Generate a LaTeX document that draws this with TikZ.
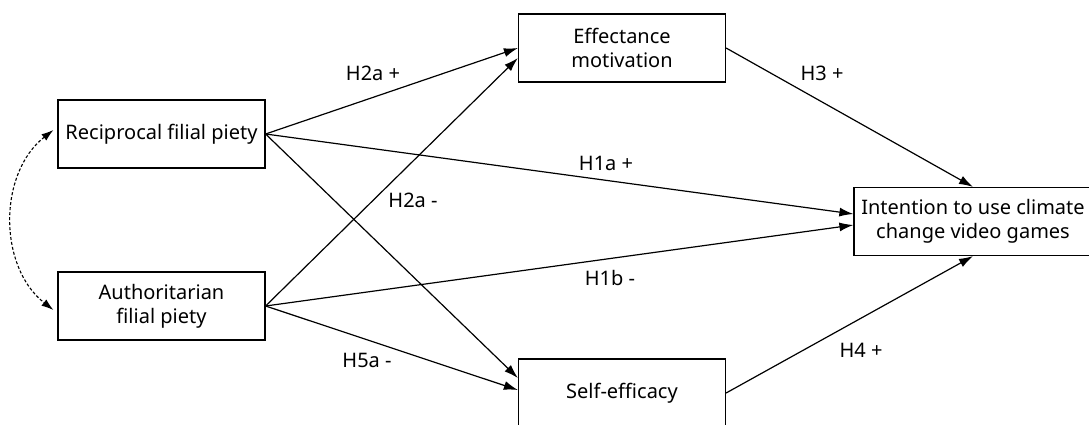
\documentclass[tikz,border=0pt]{standalone}
\usepackage{fontspec}
\setmainfont{Noto Sans}
\usetikzlibrary{arrows.meta}

\begin{document}
\begin{tikzpicture}[x=1pt,y=1pt,
  box/.style={draw,line width=1.2pt,minimum width=207pt,minimum height=68pt,align=center,inner sep=2pt,font=\fontsize{20}{24}\selectfont},
  hyp/.style={font=\fontsize{20}{24}\selectfont,inner sep=0pt},
  arr/.style={line width=1.2pt,-{Latex[length=14pt,width=9pt]}}]
\useasboundingbox (0,0) rectangle (1089,424);

\node[box] (recip) at (161.5,290) {Reciprocal filial piety};
\node[box] (auth) at (161.5,118) {Authoritarian\\filial piety};
\node[box] (eff) at (622,376) {Effectance\\motivation};
\node[box] (self) at (622,31) {Self-efficacy};
\node[box,minimum width=238pt] (intent) at (973,202.5) {Intention to use climate\\change video games};

\draw[arr] (recip.east) -- (eff.west);
\draw[arr] (auth.east) -- ([yshift=-10pt]eff.west);
\draw[arr] (recip.east) -- ([yshift=7.5pt]intent.west);
\draw[arr] (auth.east) -- ([yshift=-3.5pt]intent.west);
\draw[arr] (recip.east) -- ([yshift=15pt]self.west);
\draw[arr] (auth.east) -- ([yshift=3pt]self.west);
\draw[arr] (eff.east) -- (intent.north);
\draw[arr] (self.east) -- (intent.south);

\draw[line width=1.1pt,dash pattern=on 3pt off 2pt,{Latex[length=12pt,width=8pt]}-{Latex[length=12pt,width=8pt]}]
  ([shift={(-4pt,4pt)}]recip.west) to[bend right=52] ([shift={(-4pt,-4pt)}]auth.west);

\node[hyp] (h2ap) at (373,351) {H2a +};
\node[hyp] (h2am) at (413,224) {H2a -};
\node[hyp] (h1ap) at (606,261) {H1a +};
\node[hyp] (h1bm) at (610,146) {H1b -};
\node[hyp] (h5am) at (367,64) {H5a -};
\node[hyp] (h3p) at (822,351) {H3 +};
\node[hyp] (h4p) at (861,74) {H4 +};

\end{tikzpicture}
\end{document}
